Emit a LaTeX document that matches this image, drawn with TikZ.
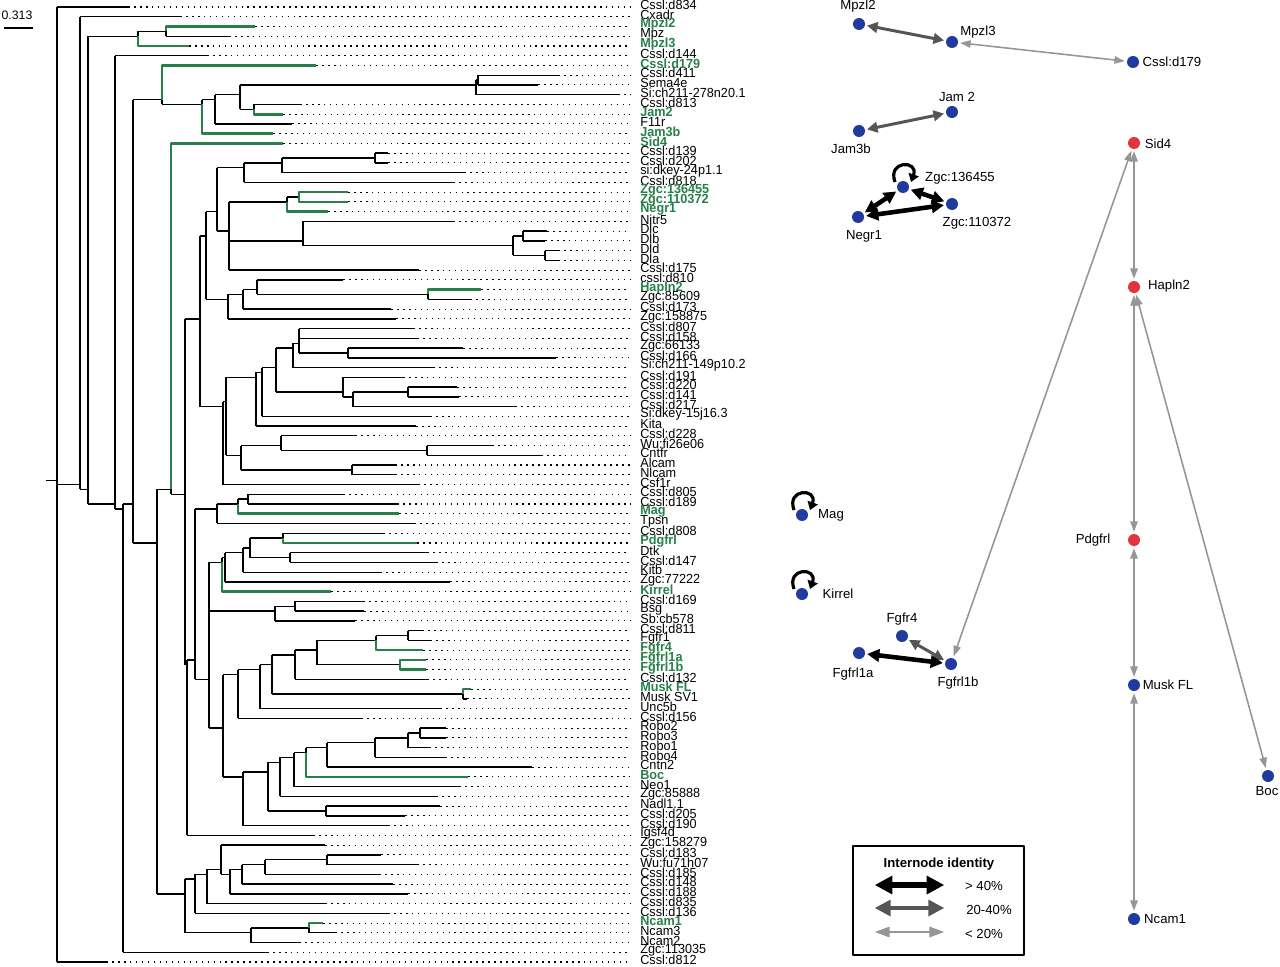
\documentclass[tikz,border=0pt]{standalone}
\usepackage{fontspec}
\setmainfont{Liberation Sans}
\newfontfamily\leaffont[FakeStretch=0.96]{Liberation Sans}
\usetikzlibrary{arrows.meta}
\definecolor{treegreen}{RGB}{38,128,72}
\definecolor{netblue}{RGB}{32,58,160}
\definecolor{netred}{RGB}{226,52,62}
\definecolor{midgrey}{RGB}{85,85,85}
\definecolor{lightgrey}{RGB}{150,150,150}
\begin{document}
\begin{tikzpicture}[x=0.02cm, y=-0.02cm, line join=round,
	declare function={ly(\i)=7+(\i-1)*9.745;},
	branch/.style={line width=0.8pt},
	greenbranch/.style={line width=1.5pt, treegreen},
	dots/.style={line width=0.6pt, dash pattern=on 0.9pt off 2.5pt},
	leaf/.style={font=\leaffont\fontsize{7.5}{8}\selectfont, anchor=west, inner sep=0pt},
	gleaf/.style={leaf, text=treegreen, font=\leaffont\fontsize{7.5}{8}\selectfont\bfseries},
	gene/.style={circle, fill=netblue, minimum size=0.24cm, inner sep=0pt},
	redgene/.style={gene, fill=netred},
	glabel/.style={font=\fontsize{7.5}{8}\selectfont, inner sep=0pt},
	strong/.style={line width=2.6pt, shorten <=1pt, shorten >=1pt, {Triangle[width=#1,length=#1]}-{Triangle[width=#1,length=#1]}},
	strong/.default=7pt,
	medium/.style={midgrey, line width=1.7pt, shorten <=1pt, shorten >=1pt, {Triangle[width=#1,length=#1]}-{Triangle[width=#1,length=#1]}},
	medium/.default=6pt,
	weak/.style={lightgrey, line width=0.9pt, shorten <=1pt, shorten >=1pt, {Triangle[width=0.7*#1,length=#1]}-{Triangle[width=0.7*#1,length=#1]}},
	weak/.default=6pt,
	selfloop/.style={line width=1.8pt, -{Triangle[width=6pt,length=4.5pt]}}]
\useasboundingbox (0,0) rectangle (1280,966);

\node[font=\fontsize{7}{8}\selectfont, inner sep=0pt] (scale) at (17,15) {0.313};
\draw[line width=0.8pt] (4,28) -- (33,28);

\draw[branch] (46,{ly(49.6)}) -- (57,{ly(49.6)}) (57,{ly(1)}) -- (57,{ly(99)});
\foreach \x/\p/\m/\t/\b in {80/57/50/2/50.5, 88/80/50.5/4/52, 138/88/4/3.5/5, 166/138/3.5/3/4,
	115/88/52/6/52.5, 123/115/52.5/52/98, 133/123/52/10.5/56, 162/133/10.5/7/11, 202/162/11/10.5/14,
	215/202/10.5/10/13, 240/215/10/9/11.5, 476/240/9/8.5/10, 478/476/8.5/8/9, 254/240/11.5/11/12,
	157/133/56/50.5/92, 171/157/50.5/15/51, 185/171/51/33/68.5, 200/185/33/24.5/42, 206/200/24.5/22/31,
	217/206/22/17.5/24, 244/217/17.5/17/19, 282/244/17/16.5/18, 375/282/16.5/16/17, 229/217/24/21/28,
	287/229/21/20.5/22, 299/287/20.5/20/21, 303/229/25/23/25.5, 513/303/25.5/24.5/26.5, 523/513/24.5/24/25,
	545/513/26.5/26/27, 228/206/31/30.5/33, 243/228/30.5/30/32, 257/243/30/29/30.5, 428/257/30.5/30/31,
	223/200/42/41.5/50, 226/223/41.5/39/47, 256/226/39/38.5/44, 262/256/38.5/38/43, 276/262/38/36/40.5,
	293/276/36/35.5/38, 299/293/35.5/34/36.5, 348/299/36.5/36/37, 343/276/40.5/39/41, 353/343/41/40.5/42,
	408/353/40.5/40/41, 241/226/47/46/48.5, 281/241/46/45/46.5, 427/281/46.5/46/47, 352/241/48.5/48/49,
	187/185/68.5/68/86, 195/187/68/52.5/70, 217/195/52.5/52/54, 238/217/52/51.5/53, 248/238/51.5/51/52,
	209/195/70/58/75, 222/209/58/57.5/61, 225/222/57.5/57/60, 243/225/57/56.5/59, 250/243/56.5/55.5/57.5,
	283/250/55.5/55/56, 290/250/57.5/57/58, 275/209/63/62.5/64, 295/275/62.5/62/63, 223/209/75/69.5/80,
	238/223/69.5/69/74, 260/238/69/68.5/73, 272/260/68.5/67.5/71.5, 295/272/67.5/67/70, 317/295/67/66/68.5,
	376/317/66/65.5/67, 408/376/65.5/65/66, 400/317/68.5/68/69, 463/272/71.5/71/72, 243/223/80/79.5/85,
	268/243/79.5/78.5/83.5, 326/268/83.5/83/84, 280/268/78.5/78/82, 294/280/78/77.5/81, 306/294/77.5/77/80,
	327/306/77/76.5/79, 375/327/76.5/76/78, 408/375/76/75.5/77, 420/408/75.5/75/76, 185/157/92/90.5/96,
	195/185/90.5/90/94, 207/195/90/89.5/93, 221/207/89.5/87/90, 230/221/90/89.5/92, 242/230/89.5/89/91,
	265/242/89/88.5/90, 327/265/88.5/88/89, 251/185/96/95.5/97, 309/251/95.5/95/96}{
	\draw[branch] (\p,{ly(\m)}) -- (\x,{ly(\m)}) (\x,{ly(\t)}) -- (\x,{ly(\b)});}

\foreach \i/\p/\e in {1/57/128, 2/80/180, 3/166/255, 4/166/229, 5/138/189, 6/115/207, 7/162/316, 8/478/558,
	9/478/538, 10/476/618, 11/254/300, 12/254/283, 13/215/292, 14/202/273, 15/171/283, 16/375/388, 17/375/388,
	18/282/464, 19/244/453, 20/299/348, 21/299/348, 22/287/328, 23/303/453, 24/523/547, 25/523/545, 26/545/558,
	27/545/558, 28/229/419, 29/257/343, 30/428/481, 31/428/470, 32/243/391, 33/228/396, 34/299/413, 35/299/417,
	36/348/463, 37/348/556, 38/293/433, 39/343/403, 40/408/457, 41/408/459, 42/353/515, 43/262/430, 44/256/416,
	45/281/355, 46/427/492, 47/427/541, 48/352/395, 49/352/395, 50/223/418, 51/248/343, 52/248/397, 53/238/399,
	54/217/414, 55/283/383, 56/283/417, 57/290/427, 58/290/436, 59/243/380, 60/225/450, 61/222/331, 62/295/363,
	63/295/364, 64/275/355, 65/408/422, 66/408/430, 67/376/423, 68/400/426, 69/400/426, 70/295/427, 71/463/471,
	72/463/467, 73/260/440, 74/238/361, 75/420/446, 76/420/446, 77/408/429, 78/375/445, 79/327/532, 80/306/468,
	81/294/459, 82/280/436, 83/326/440, 84/326/405, 85/243/388, 86/187/313, 87/221/325, 88/327/381, 89/327/417,
	90/265/379, 91/242/393, 92/230/408, 93/207/325, 94/195/388, 95/309/323, 96/309/335, 97/251/299, 98/123/267,
	99/57/106}{
	\draw[branch] (\p,{ly(\i)}) -- (\e,{ly(\i)});
	\draw[dots] (\e,{ly(\i)}) -- (630,{ly(\i)});}

\foreach \i/\p/\e/\c in {3/166/255/3.5, 5/138/189/4, 7/162/316/10.5, 12/254/283/11.5, 14/202/273/11,
	15/171/283/50.5, 20/299/348/20.5, 21/299/348/20.5, 22/287/328/21, 30/428/481/30.5, 53/238/399/52,
	56/283/417/55.5, 61/222/331/58, 67/376/423/66, 68/400/426/68.5, 69/400/426/68.5, 71/463/471/71.5,
	80/306/468/77.5, 95/309/323/95.5}{
	\draw[greenbranch] (\p,{ly(\c)}) |- (\e,{ly(\i)});}

\foreach \t/\s [count=\i] in {Cssl:d834/leaf, Cxadr/leaf, Mpzl2/gleaf, Mpz/leaf, Mpzl3/gleaf, Cssl:d144/leaf,
	Cssl:d179/gleaf, Cssl:d411/leaf, Sema4e/leaf, Si:ch211-278n20.1/leaf, Cssl:d813/leaf, Jam2/gleaf, F11r/leaf,
	Jam3b/gleaf, Sid4/gleaf, Cssl:d139/leaf, Cssl:d202/leaf, si:dkey-24p1.1/leaf, Cssl:d818/leaf,
	Zgc:136455/gleaf, Zgc:110372/gleaf, Negr1/gleaf, Nitr5/leaf, Dlc/leaf, Dlb/leaf, Dld/leaf, Dla/leaf,
	Cssl:d175/leaf, cssl:d810/leaf, Hapln2/gleaf, Zgc:85609/leaf, Cssl:d173/leaf, Zgc:158875/leaf,
	Cssl:d807/leaf, Cssl:d158/leaf, Zgc:66133/leaf, Cssl:d166/leaf, Si:ch211-149p10.2/leaf, Cssl:d191/leaf,
	Cssl:d220/leaf, Cssl:d141/leaf, Cssl:d217/leaf, Si:dkey-15j16.3/leaf, Kita/leaf, Cssl:d228/leaf,
	Wu:fi26e06/leaf, Cntfr/leaf, Alcam/leaf, Nlcam/leaf, Csf1r/leaf, Cssl:d805/leaf, Cssl:d189/leaf, Mag/gleaf,
	Tpsn/leaf, Cssl:d808/leaf, Pdgfrl/gleaf, Dtk/leaf, Cssl:d147/leaf, Kitb/leaf, Zgc:77222/leaf, Kirrel/gleaf,
	Cssl:d169/leaf, Bsg/leaf, Sb:cb578/leaf, Cssl:d811/leaf, Fgfr1/leaf, Fgfr4/gleaf, Fgfrl1a/gleaf,
	Fgfrl1b/gleaf, Cssl:d132/leaf, Musk FL/gleaf, Musk SV1/leaf, Unc5b/leaf, Cssl:d156/leaf, Robo2/leaf,
	Robo3/leaf, Robo1/leaf, Robo4/leaf, Cntn2/leaf, Boc/gleaf, Neo1/leaf, Zgc:85888/leaf, Nadl1.1/leaf,
	Cssl:d205/leaf, Cssl:d190/leaf, Igsf4d/leaf, Zgc:158279/leaf, Cssl:d183/leaf, Wu:fu71h07/leaf,
	Cssl:d185/leaf, Cssl:d148/leaf, Cssl:d188/leaf, Cssl:d835/leaf, Cssl:d136/leaf, Ncam1/gleaf, Ncam3/leaf,
	Ncam2/leaf, Zgc:113035/leaf, Cssl:d812/leaf}{
	\node[\s] (leaf\i) at (640,{ly(\i)-2}) {\t};}

\foreach \n/\x/\y/\s/\t/\tx/\ty in {mpzl2/859/24/gene/Mpzl2/858/6, mpzl3/952/42/gene/Mpzl3/978/32,
	cssl179/1133/62/gene/Cssl:d179/1172/62, jam2/952/112/gene/Jam 2/957/97, jam3b/859/131/gene/Jam3b/851/149,
	sid4/1134/143/redgene/Sid4/1158/144, zgc136/903/187/gene/Zgc:136455/960/178,
	negr1/858/217/gene/Negr1/864/236, zgc110/952/204/gene/Zgc:110372/977/223,
	hapln2/1134/287/redgene/Hapln2/1169/286, mag/802/515/gene/Mag/831/515, kirrel/802/594/gene/Kirrel/838/594,
	pdgfrl/1134/540/redgene/Pdgfrl/1093/540, fgfr4/902/636/gene/Fgfr4/902/619,
	fgfrl1a/859/653/gene/Fgfrl1a/853/674, fgfrl1b/951/664/gene/Fgfrl1b/958/683,
	muskfl/1134/685/gene/Musk FL/1168/685, boc/1268/776/gene/Boc/1267/791, ncam1/1134/919/gene/Ncam1/1165/919}{
	\node[\s] (\n) at (\x,\y) {};
	\node[glabel] (\n-t) at (\tx,\ty) {\t};}

\draw[medium] (mpzl2) -- (mpzl3);
\draw[weak] (mpzl3) -- (cssl179);
\draw[medium] (jam3b) -- (jam2);
\draw[strong] (zgc136) -- (negr1);
\draw[strong] (zgc136) -- (zgc110);
\draw[strong] (negr1) -- (zgc110);
\draw[weak] (sid4) -- (hapln2);
\draw[weak] (sid4) -- (fgfrl1b);
\draw[weak] (hapln2) -- (pdgfrl);
\draw[weak] (hapln2) -- (boc);
\draw[weak] (pdgfrl) -- (muskfl);
\draw[weak] (muskfl) -- (ncam1);
\draw[medium] (fgfr4) -- (fgfrl1b);
\draw[strong] (fgfrl1a) -- (fgfrl1b);
\foreach \n in {zgc136, mag, kirrel}
	\draw[selfloop] ([shift={(-8,-5)}]\n.center) .. controls +(-8,-22) and +(8,-22) .. ([shift={(8,-5)}]\n.center);

\node[draw, line width=1.1pt, minimum width=3.42cm, minimum height=2.18cm] (keybox) at (938.5,900.5) {};
\node[glabel, font=\fontsize{7.5}{8}\selectfont\bfseries] (keytitle) at (939,864) {Internode identity};
\path (873,885) coordinate (k1a) (946,885) coordinate (k1b)
	(873,908) coordinate (k2a) (946,908) coordinate (k2b)
	(873,932) coordinate (k3a) (946,932) coordinate (k3b);
\draw[strong=10pt, line width=3pt] (k1a) -- (k1b);
\draw[medium=9pt, line width=2pt] (k2a) -- (k2b);
\draw[weak=8.5pt, line width=1pt] (k3a) -- (k3b);
\node[glabel] (k1t) at (984,886) {> 40\%};
\node[glabel] (k2t) at (989,910) {20-40\%};
\node[glabel] (k3t) at (984,934) {< 20\%};
\end{tikzpicture}
\end{document}
